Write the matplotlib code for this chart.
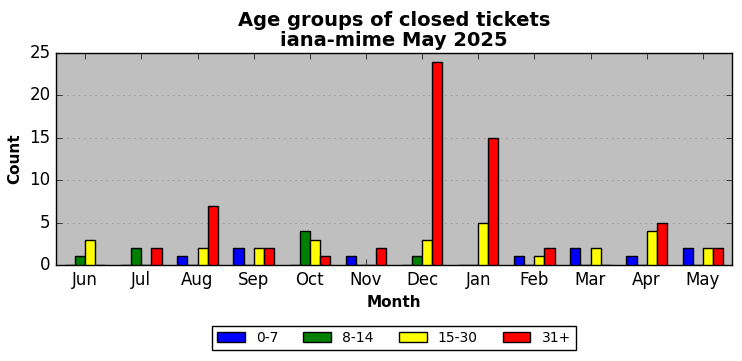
import numpy as np
import matplotlib
matplotlib.use("Agg")
import matplotlib.pyplot as plt

plt.style.use('classic')

# dados
meses = ["Jun", "Jul", "Aug", "Sep", "Oct", "Nov", "Dec", "Jan", "Feb", "Mar", "Apr", "May"]
faixas = ["0-7", "8-14", "15-30", "31+"]
cores = ["blue", "green", "yellow", "red"]
v_0_7 = [0, 0, 1, 2, 0, 1, 0, 0, 1, 2, 1, 2]
v_8_14 = [1, 2, 0, 0, 4, 0, 1, 0, 0, 0, 0, 0]
v_15_30 = [3, 0, 2, 2, 3, 0, 3, 5, 1, 2, 4, 2]
v_31 = [0, 2, 7, 2, 1, 2, 24, 15, 2, 0, 5, 2]
series = [v_0_7, v_8_14, v_15_30, v_31]

fig = plt.figure(figsize=(7.42, 3.61), dpi=100)
fig.patch.set_facecolor('white')
ax = fig.add_axes([0.0755, 0.266, 0.911, 0.587])
ax.set_facecolor('#bfbfbf')

x = np.arange(len(meses))
largura = 0.18
for i, (vals, cor, nome) in enumerate(zip(series, cores, faixas)):
    ax.bar(x + (i - 1.5) * largura, vals, largura, color=cor, edgecolor='black',
           linewidth=1, label=nome, align='center', zorder=3)

ax.set_xlim(-0.52, 11.52)
ax.set_ylim(0, 25)
ax.set_yticks([0, 5, 10, 15, 20, 25])
ax.set_xticks(x)
ax.set_xticklabels(meses)
ax.tick_params(labelsize=12)
ax.yaxis.grid(True, linestyle=':', color='#888888', zorder=0)
ax.set_axisbelow(True)

ax.set_title("Age groups of closed tickets\niana-mime May 2025", fontsize=14,
             fontweight='bold', linespacing=1.1)
ax.set_xlabel("Month", fontsize=11, fontweight='bold')
ax.set_ylabel("Count", fontsize=11, fontweight='bold')

ax.legend(loc='upper center', bbox_to_anchor=(0.5, -0.255), ncol=4, fontsize=10,
          frameon=True, fancybox=False, borderpad=0.35, columnspacing=1.8)

fig.savefig("out.png", dpi=100, facecolor='white')
